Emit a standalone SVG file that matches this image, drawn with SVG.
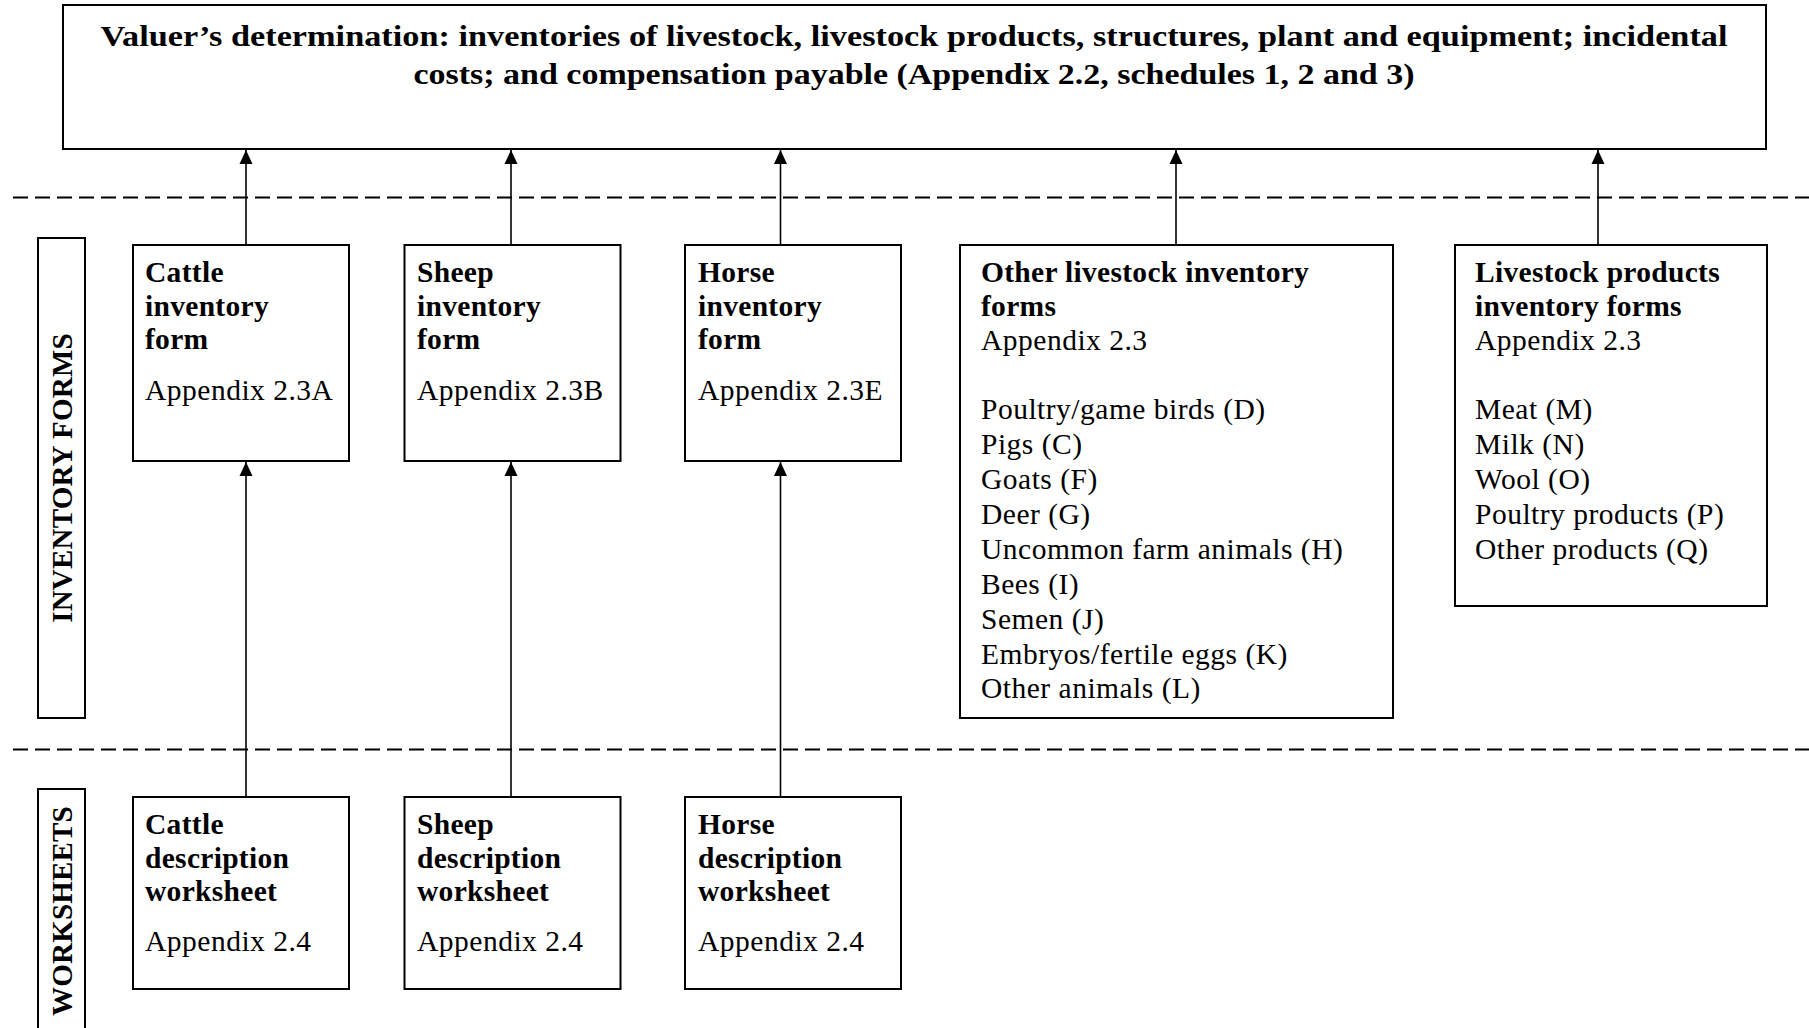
<svg xmlns="http://www.w3.org/2000/svg" width="1809" height="1028" viewBox="0 0 1809 1028">
  <defs>
    <marker id="arrow" markerUnits="userSpaceOnUse" markerWidth="14" markerHeight="14" refX="14" refY="7" orient="auto">
      <path d="M0,0.5 L14,7 L0,13.5 z" fill="#000"/>
    </marker>
    <style>
      .box { fill: #fff; stroke: #000; stroke-width: 2; }
      .dash { stroke: #000; stroke-width: 2.2; stroke-dasharray: 15 7; fill: none; }
      .conn { stroke: #000; stroke-width: 1.6; fill: none; marker-end: url(#arrow); }
      text { font-family: "Liberation Serif", "Times New Roman", serif; font-size: 29.5px; letter-spacing: 0.5px; fill: #000; }
      .b { font-weight: bold; letter-spacing: 0.3px; }
      .t { font-weight: bold; font-size: 29px; letter-spacing: 0; }
      .side { font-weight: bold; font-size: 29px; letter-spacing: 0.2px; text-anchor: middle; dominant-baseline: central; }
    </style>
  </defs>
  <rect width="1809" height="1028" fill="#fff"/>

  <!-- swimlane dividers -->
  <line class="dash" x1="13" y1="197.5" x2="1809" y2="197.5"/>
  <line class="dash" x1="13" y1="749.5" x2="1809" y2="749.5"/>

  <!-- side labels -->
  <g id="lane-inventory-forms">
    <rect class="box" x="38" y="238" width="47" height="480"/>
    <text class="side" transform="translate(62,478) rotate(-90)">INVENTORY FORMS</text>
  </g>
  <g id="lane-worksheets">
    <rect class="box" x="38" y="789" width="47" height="260"/>
    <text class="side" transform="translate(62,911) rotate(-90)">WORKSHEETS</text>
  </g>

  <!-- top node -->
  <g id="valuer-determination">
    <rect class="box" x="63" y="5" width="1703" height="144"/>
    <text class="t" x="914" y="46" text-anchor="middle" textLength="1627" lengthAdjust="spacingAndGlyphs">Valuer’s determination: inventories of livestock, livestock products, structures, plant and equipment; incidental</text>
    <text class="t" x="914" y="84" text-anchor="middle" textLength="1001" lengthAdjust="spacingAndGlyphs">costs; and compensation payable (Appendix 2.2, schedules 1, 2 and 3)</text>
  </g>

  <!-- inventory forms -->
  <g id="cattle-inventory">
    <rect class="box" x="133" y="245" width="216" height="216"/>
    <text class="b" x="145" y="282">Cattle</text>
    <text class="b" x="145" y="316">inventory</text>
    <text class="b" x="145" y="349">form</text>
    <text x="145" y="400">Appendix 2.3A</text>
  </g>
  <g id="sheep-inventory">
    <rect class="box" x="404.5" y="245" width="216" height="216"/>
    <text class="b" x="417" y="282">Sheep</text>
    <text class="b" x="417" y="316">inventory</text>
    <text class="b" x="417" y="349">form</text>
    <text x="417" y="400">Appendix 2.3B</text>
  </g>
  <g id="horse-inventory">
    <rect class="box" x="685" y="245" width="216" height="216"/>
    <text class="b" x="698" y="282">Horse</text>
    <text class="b" x="698" y="316">inventory</text>
    <text class="b" x="698" y="349">form</text>
    <text x="698" y="400">Appendix 2.3E</text>
  </g>
  <g id="other-livestock-inventory">
    <rect class="box" x="960" y="245" width="433" height="473"/>
    <text class="b" x="981" y="282">Other livestock inventory</text>
    <text class="b" x="981" y="316">forms</text>
    <text x="981" y="350">Appendix 2.3</text>
    <text x="981" y="419">Poultry/game birds (D)</text>
    <text x="981" y="454">Pigs (C)</text>
    <text x="981" y="489">Goats (F)</text>
    <text x="981" y="524">Deer (G)</text>
    <text x="981" y="559">Uncommon farm animals (H)</text>
    <text x="981" y="594">Bees (I)</text>
    <text x="981" y="629">Semen (J)</text>
    <text x="981" y="664">Embryos/fertile eggs (K)</text>
    <text x="981" y="698">Other animals (L)</text>
  </g>
  <g id="livestock-products-inventory">
    <rect class="box" x="1455" y="245" width="312" height="361"/>
    <text class="b" x="1475" y="282">Livestock products</text>
    <text class="b" x="1475" y="316">inventory forms</text>
    <text x="1475" y="350">Appendix 2.3</text>
    <text x="1475" y="419">Meat (M)</text>
    <text x="1475" y="454">Milk (N)</text>
    <text x="1475" y="489">Wool (O)</text>
    <text x="1475" y="524">Poultry products (P)</text>
    <text x="1475" y="559">Other products (Q)</text>
  </g>

  <!-- worksheets -->
  <g id="cattle-worksheet">
    <rect class="box" x="133" y="797" width="216" height="192"/>
    <text class="b" x="145" y="834">Cattle</text>
    <text class="b" x="145" y="868">description</text>
    <text class="b" x="145" y="901">worksheet</text>
    <text x="145" y="951">Appendix 2.4</text>
  </g>
  <g id="sheep-worksheet">
    <rect class="box" x="404.5" y="797" width="216" height="192"/>
    <text class="b" x="417" y="834">Sheep</text>
    <text class="b" x="417" y="868">description</text>
    <text class="b" x="417" y="901">worksheet</text>
    <text x="417" y="951">Appendix 2.4</text>
  </g>
  <g id="horse-worksheet">
    <rect class="box" x="685" y="797" width="216" height="192"/>
    <text class="b" x="698" y="834">Horse</text>
    <text class="b" x="698" y="868">description</text>
    <text class="b" x="698" y="901">worksheet</text>
    <text x="698" y="951">Appendix 2.4</text>
  </g>

  <!-- connectors -->
  <g id="connectors">
    <line class="conn" x1="246" y1="245" x2="246" y2="150"/>
    <line class="conn" x1="511" y1="245" x2="511" y2="150"/>
    <line class="conn" x1="780.5" y1="245" x2="780.5" y2="150"/>
    <line class="conn" x1="1176" y1="245" x2="1176" y2="150"/>
    <line class="conn" x1="1598" y1="245" x2="1598" y2="150"/>
    <line class="conn" x1="246" y1="797" x2="246" y2="462"/>
    <line class="conn" x1="511" y1="797" x2="511" y2="462"/>
    <line class="conn" x1="780.5" y1="797" x2="780.5" y2="462"/>
  </g>
</svg>
